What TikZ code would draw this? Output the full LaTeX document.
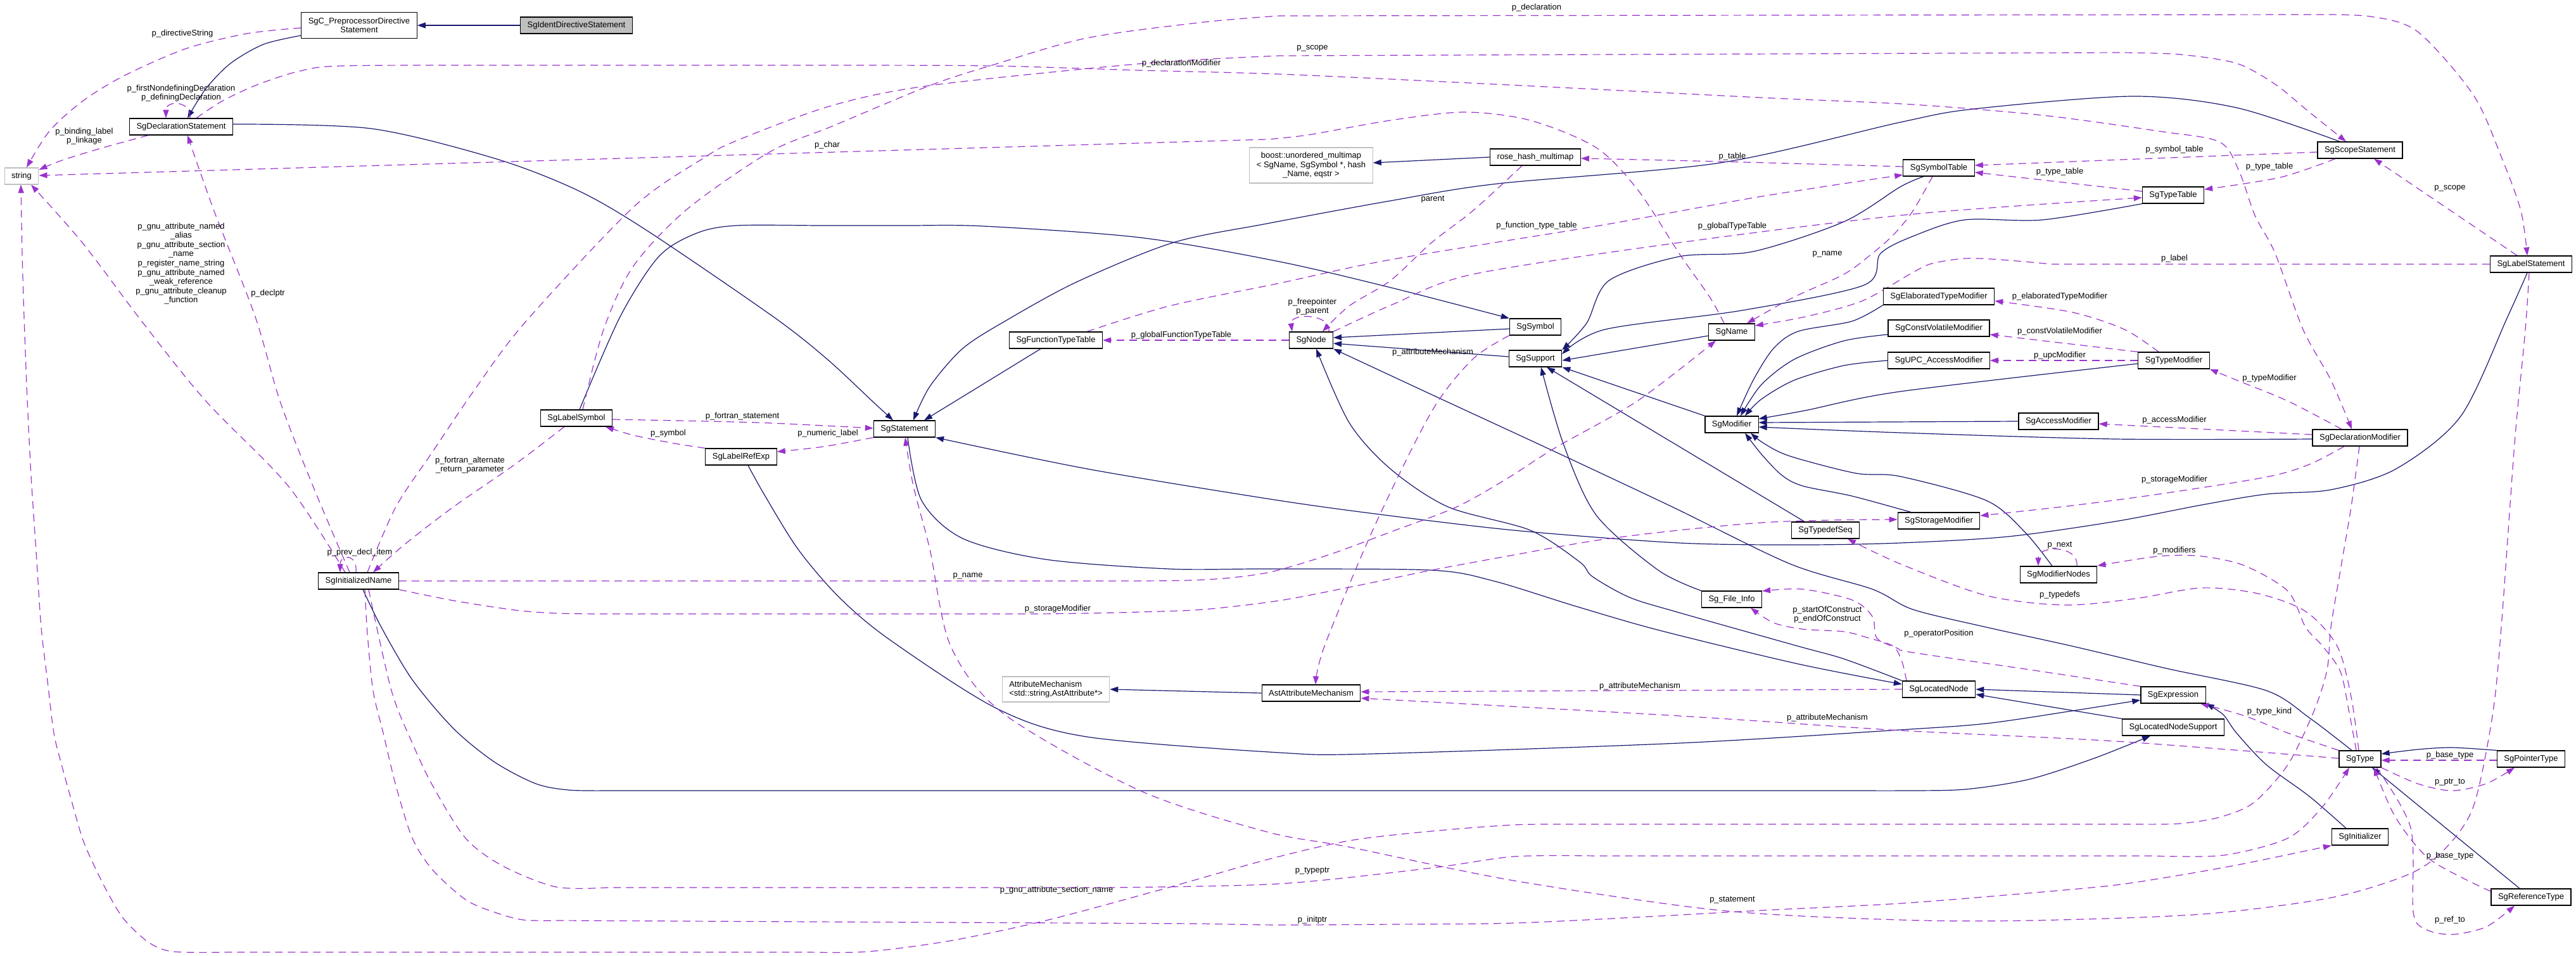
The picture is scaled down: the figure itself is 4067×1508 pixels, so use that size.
\documentclass[tikz,border=0pt]{standalone}
\usepackage{fontspec}
\setmainfont{Liberation Sans}
\usetikzlibrary{arrows.meta,backgrounds}
\definecolor{EdgeBlue}{HTML}{191970}
\definecolor{EdgePurple}{HTML}{9A32CD}
\definecolor{ExtGray}{HTML}{BFBFBF}

\begin{document}
\begin{tikzpicture}[x=1pt,y=-1pt,
  cls/.style={rectangle,draw=black,line width=1.2pt,fill=white,font=\fontsize{13}{14.6}\selectfont,inner xsep=11pt,inner ysep=2pt,minimum height=26pt,align=center},
  ext/.style={cls,draw=ExtGray},
  lbl/.style={font=\fontsize{13}{14.6}\selectfont,inner sep=0pt,align=center},
  inh/.style={draw=EdgeBlue,line width=1.2pt,-{Triangle[length=13pt,width=9pt]}},
  dep/.style={draw=EdgePurple,line width=1.2pt,dash pattern=on 12pt off 8pt,-{Triangle[length=13pt,width=9pt]}}]
\useasboundingbox (0,0) rectangle (4067,1508);
\node[cls,fill=ExtGray] (ident) at (910,40) {SgIdentDirectiveStatement};
\node[cls,minimum height=41pt] (preproc) at (567,40) {SgC\_PreprocessorDirective\\Statement};
\node[cls] (declstmt) at (286,200) {SgDeclarationStatement};
\node[ext] (str) at (34,278) {string};
\node[cls] (labelsym) at (910,660) {SgLabelSymbol};
\node[cls] (initname) at (566,917) {SgInitializedName};
\node[cls] (labelref) at (1170,721) {SgLabelRefExp};
\node[cls] (stmt) at (1428,677) {SgStatement};
\node[cls] (functypetab) at (1667,537) {SgFunctionTypeTable};
\node[ext,minimum height=40pt,align=left] (attrmech) at (1667,1088) {AttributeMechanism\\<std::string,AstAttribute*>};
\node[cls] (astattr) at (2070,1094) {AstAttributeMechanism};
\node[ext,minimum height=56pt] (boostmap) at (2070,261) {boost::unordered\_multimap\\< SgName, SgSymbol *, hash\\\_Name, eqstr >};
\node[cls] (rosemap) at (2424,248) {rose\_hash\_multimap};
\node[cls] (sgnode) at (2070,537) {SgNode};
\node[cls] (symbol) at (2424,516) {SgSymbol};
\node[cls] (support) at (2424,566) {SgSupport};
\node[cls] (name) at (2734,524) {SgName};
\node[cls] (modifier) at (2734,670) {SgModifier};
\node[cls] (typedefseq) at (2882,837) {SgTypedefSeq};
\node[cls] (fileinfo) at (2734,946) {Sg\_File\_Info};
\node[cls] (symtab) at (3061,265) {SgSymbolTable};
\node[cls] (typetab) at (3431,308) {SgTypeTable};
\node[cls] (scopestmt) at (3726,237) {SgScopeStatement};
\node[cls] (labelstmt) at (3996,417) {SgLabelStatement};
\node[cls] (elabmod) at (3061,468) {SgElaboratedTypeModifier};
\node[cls] (cvmod) at (3061,518) {SgConstVolatileModifier};
\node[cls] (upcmod) at (3061,569) {SgUPC\_AccessModifier};
\node[cls] (typemod) at (3432,569) {SgTypeModifier};
\node[cls] (accmod) at (3250,665) {SgAccessModifier};
\node[cls] (declmod) at (3726,691) {SgDeclarationModifier};
\node[cls] (stormod) at (3061,822) {SgStorageModifier};
\node[cls] (modnodes) at (3250,907) {SgModifierNodes};
\node[cls] (locnode) at (3061,1088) {SgLocatedNode};
\node[cls] (expr) at (3431,1097) {SgExpression};
\node[cls] (locsupport) at (3431,1148) {SgLocatedNodeSupport};
\node[cls] (type) at (3726,1198) {SgType};
\node[cls] (ptrtype) at (3996,1198) {SgPointerType};
\node[cls] (initializer) at (3726,1321) {SgInitializer};
\node[cls] (reftype) at (3996,1416) {SgReferenceType};
\begin{scope}[on background layer]
\draw[inh] (ident) -- (preproc);
\draw[inh] plot[smooth] coordinates {(preproc.west |- 0,56) (416,70) (364,100) (325,140) (declstmt.north -| 296,0)};
\draw[inh] plot[smooth] coordinates {(declstmt.east |- 0,196) (586,203) (781,250) (911,300) (1020,363) (1221,500) (1306,567) (1377,633) (stmt.north -| 1410,0)};
\draw[inh] plot[smooth] coordinates {(scopestmt.north -| 3694,0) (3531,170) (3367,152) (3116,172) (3000,193) (2716,257) (2364,290) (2195,317) (2000,353) (1852,383) (1700,445) (1590,505) (1520,550) (1468,610) (stmt.north -| 1442,0)};
\draw[inh] (functypetab.south -| 1643,0) -- (stmt.north -| 1459,0);
\draw[inh] plot[smooth] coordinates {(labelstmt.south -| 3990,0) (3959,500) (3885,657) (3783,740) (3680,773) (3578,780) (3476,797) (3340,823) (3170,847) (3000,857) (2846,860) (2651,857) (2390,837) (2163,810) (2000,787) (1716,740) (stmt.south east)};
\draw[inh] plot[smooth] coordinates {(stmt.south -| 1433,0) (1455,790) (1520,850) (1651,883) (1846,898) (2000,898) (2260,900) (2358,917) (2488,957) (2620,995) (2839,1048) (locnode.west |- 0,1080)};
\draw[inh] plot[smooth] coordinates {(labelsym.north -| 915,0) (979,500) (1040,405) (1100,368) (1163,356) (1300,356) (1430,356) (1553,357) (1800,375) (2020,413) (2200,455) (symbol.north west)};
\draw[inh] (symbol.west |- 0,519) -- (sgnode.east |- 0,533);
\draw[inh] (support.west |- 0,563) -- (sgnode.east |- 0,542);
\draw[inh] (name.west |- 0,530) -- (support.east |- 0,569);
\draw[inh] (modifier.north west) -- (support.south east);
\draw[inh] (typedefseq.north -| 2849,0) -- (support.south -| 2442,0);
\draw[inh] plot[smooth] coordinates {(fileinfo.north west) (2618,900) (2520,813) (2468,700) (support.south -| 2433,0)};
\draw[inh] plot[smooth] coordinates {(symtab.south -| 3037,0) (3000,295) (2911,350) (2768,397) (2651,405) (2540,443) (2505,510) (support.north east)};
\draw[inh] plot[smooth] coordinates {(typetab.south west) (3225,347) (3102,347) (3020,373) (2969,400) (2943,450) (2750,490) (2534,520) (support.east |- 0,559)};
\draw[inh] plot[smooth] coordinates {(locnode.north west) (2911,1040) (2839,1020) (2651,967) (2573,943) (2514,910) (2494,887) (2416,837) (2286,800) (2195,740) (2130,667) (sgnode.south -| 2078,0)};
\draw[inh] plot[smooth] coordinates {(type.north -| 3713,0) (3646,1133) (3578,1090) (3420,1055) (3272,1020) (3136,990) (3020,962) (2956,930) (2826,890) (2640,800) (2455,713) (2280,632) (sgnode.south east)};
\draw[inh] plot[smooth] coordinates {(elabmod.south west) (2924,507) (2839,523) (2800,550) (2768,600) (modifier.north -| 2742,0)};
\draw[inh] plot[smooth] coordinates {(cvmod.west |- 0,528) (2911,538) (2833,567) (2781,607) (modifier.north -| 2748,0)};
\draw[inh] plot[smooth] coordinates {(upcmod.west) (2911,577) (2833,600) (2781,630) (modifier.north -| 2755,0)};
\draw[inh] plot[smooth] coordinates {(typemod.west |- 0,574) (3000,618) (2850,648) (modifier.east |- 0,661)};
\draw[inh] (accmod.west) -- (modifier.east |- 0,667);
\draw[inh] plot[smooth] coordinates {(declmod.west |- 0,693) (3340,693) (3000,683) (modifier.east |- 0,674)};
\draw[inh] plot[smooth] coordinates {(stormod.north -| 3017,0) (2924,783) (2846,767) (2813,750) (2781,717) (modifier.south -| 2755,0)};
\draw[inh] plot[smooth] coordinates {(modnodes.north -| 3240,0) (3197,840) (3136,790) (3000,752) (2930,747) (2826,720) (2785,700) (modifier.south -| 2764,0)};
\draw[inh] (expr.west) -- (locnode.east |- 0,1088);
\draw[inh] (locsupport.north west) -- (locnode.east |- 0,1096);
\draw[inh] plot[smooth] coordinates {(initializer.north -| 3704,0) (3646,1257) (3578,1207) (3531,1157) (3510,1128) (expr.south east)};
\draw[inh] plot[smooth] coordinates {(labelref.south -| 1181,0) (1208,783) (1260,867) (1325,943) (1405,1010) (1573,1118) (1716,1163) (2020,1188) (2163,1190) (2651,1173) (3000,1152) (3136,1142) (3272,1122) (expr.west |- 0,1105)};
\draw[inh] plot[smooth] coordinates {(initname.south -| 573,0) (602,990) (651,1073) (716,1150) (781,1203) (846,1237) (898,1247) (960,1248)} -- plot[smooth] coordinates {(2950,1248) (3000,1248) (3102,1246) (3204,1230) (3306,1197) (locsupport.south -| 3395,0)};
\draw[inh] (astattr.west) -- (attrmech.east |- 0,1088);
\draw[inh] (rosemap.west) -- (boostmap.east |- 0,257);
\draw[inh] plot[smooth] coordinates {(ptrtype.north west) (3871,1180) (3817,1183) (type.east |- 0,1190)};
\draw[inh] (reftype.north -| 3978,0) -- (type.south -| 3745,0);
\draw[dep] plot[smooth] coordinates {(preproc.west |- 0,44) (390,53) (293,77) (195,120) (130,160) (78,207) (str.north -| 42,0)};
\draw[dep] (declstmt.north -| 300,0) .. controls (302,158) and (262,158) .. (declstmt.north -| 262,0);
\draw[dep] plot[smooth] coordinates {(declstmt.south -| 234,0) (163,233) (98,253) (str.east |- 0,268)};
\draw[dep] plot[smooth] coordinates {(name.north -| 2722,0) (2700,470) (2651,400) (2586,300) (2520,233) (2416,190) (2312,177) (2195,190) (2065,213) (2000,220)} -- (str.east |- 0,277);
\draw[dep] plot[smooth] coordinates {(initname.north -| 545,0) (455,767) (325,633) (226,510) (130,383) (str.south -| 49,0)};
\draw[dep] plot[smooth] coordinates {(initname.north -| 552,0) (494,767) (442,633) (403,500) (338,333) (declstmt.south -| 296,0)};
\draw[dep] (initname.north -| 562,0) .. controls (565,874) and (537,874) .. (initname.north -| 537,0);
\draw[dep] plot[smooth] coordinates {(labelsym.south -| 891,0) (813,733) (716,800) (638,860) (initname.north -| 589,0)};
\draw[dep] plot[smooth] coordinates {(initname.north -| 580,0) (625,800) (683,713) (748,617) (828,510) (1000,327) (1110,250) (1163,222) (1312,167) (1468,135) (1807,100) (2020,88)} -- plot[smooth] coordinates {(3350,83) (3442,86) (3531,100) (3592,133) (3646,177) (scopestmt.north -| 3704,0)};
\draw[dep] plot[smooth] coordinates {(labelsym.north -| 920,0) (953,520) (1000,420) (1085,330) (1215,240) (1312,200) (1468,135) (1566,103) (1716,60) (1900,35) (2020,25)} -- plot[smooth] coordinates {(3650,23) (3742,26) (3817,50) (3905,150) (3950,250) (3980,333) (labelstmt.north -| 3990,0)};
\draw[dep] plot[smooth] coordinates {(declstmt.north -| 310,0) (350,160) (403,135) (470,113) (540,104) (800,103) (1050,103) (1300,103) (1566,104) (1800,111) (2020,117) (2300,130) (2600,145) (2800,155) (3020,165) (3225,182) (3408,207) (3504,224) (3535,270) (3560,340) (3592,400) (3636,520) (3680,600) (declmod.north -| 3713,0)};
\draw[dep] plot[smooth] coordinates {(labelsym.east |- 0,662) (1195,667) (stmt.west |- 0,676)};
\draw[dep] plot[smooth] coordinates {(stmt.south west) (1300,705) (labelref.east |- 0,713)};
\draw[dep] plot[smooth] coordinates {(labelref.north west) (1065,700) (1000,687) (labelsym.south -| 956,0)};
\draw[dep] (sgnode.west) -- (functypetab.east);
\draw[dep] plot[smooth] coordinates {(functypetab.north -| 1716,0) (1846,483) (2020,447) (2195,410) (2520,357) (2781,310) (symtab.west |- 0,276)};
\draw[dep] plot[smooth] coordinates {(sgnode.north east) (2200,480) (2325,433) (2651,383) (3020,338) (typetab.west |- 0,312)};
\draw[dep] (sgnode.north -| 2098,0) .. controls (2102,494) and (2036,494) .. (sgnode.north -| 2040,0);
\draw[dep] plot[smooth] coordinates {(rosemap.south -| 2403,0) (2325,333) (2260,383) (2195,443) (2130,483) (sgnode.north -| 2088,0)};
\draw[dep] plot[smooth] coordinates {(symtab.west |- 0,263) (2716,255) (rosemap.east |- 0,250)};
\draw[dep] plot[smooth] coordinates {(symtab.south -| 3051,0) (3020,333) (2990,370) (2956,400) (2911,433) (2830,470) (name.north -| 2758,0)};
\draw[dep] (labelstmt.west) -- plot[smooth] coordinates {(3240,417) (3160,410) (3102,408) (3050,416) (3020,430) (2940,475) (2850,500) (name.east |- 0,514)};
\draw[dep] (labelstmt.north -| 3974,0) -- (scopestmt.south -| 3748,0);
\draw[dep] (scopestmt.west |- 0,240) -- (symtab.east |- 0,261);
\draw[dep] plot[smooth] coordinates {(scopestmt.south -| 3687,0) (3600,280) (typetab.east |- 0,299)};
\draw[dep] (typetab.west |- 0,302) -- (symtab.east |- 0,272);
\draw[dep] plot[smooth] coordinates {(typemod.north -| 3408,0) (3354,520) (3272,493) (elabmod.east |- 0,475)};
\draw[dep] (typemod.north west) -- (cvmod.east |- 0,528);
\draw[dep] (typemod.west) -- (upcmod.east);
\draw[dep] plot[smooth] coordinates {(declmod.north -| 3697,0) (3612,633) (3531,600) (typemod.south east)};
\draw[dep] (declmod.west |- 0,686) -- (accmod.east |- 0,669);
\draw[dep] plot[smooth] coordinates {(declmod.south -| 3701,0) (3646,733) (3578,753) (3408,780) (3272,798) (stormod.east |- 0,814)};
\draw[dep] (modnodes.north -| 3279,0) .. controls (3282,860) and (3218,860) .. (modnodes.north -| 3218,0);
\draw[dep] plot[smooth] coordinates {(type.north -| 3720,0) (3708,1120) (3695,1060) (3667,1020) (3640,990) (3612,933) (3544,893) (3476,878) (3408,878) (modnodes.east |- 0,893)};
\draw[dep] plot[smooth] coordinates {(type.north -| 3724,0) (3712,1100) (3690,1020) (3640,965) (3565,937) (3476,928) (3370,945) (3259,955) (3136,940) (3000,890) (typedefseq.south -| 2917,0)};
\draw[dep] plot[smooth] coordinates {(locnode.north -| 3010,0) (3003,1045) (2989,1020) (2950,1007) (2911,997) (2846,993) (2800,983) (fileinfo.south -| 2764,0)};
\draw[dep] plot[smooth] coordinates {(expr.north west) (3204,1057) (3020,1030) (2995,1023) (2963,1007) (2956,973) (2924,947) (2846,930) (fileinfo.east |- 0,933)};
\draw[dep] plot[smooth] coordinates {(symbol.south west) (2325,567) (2260,650) (2169,833) (2091,1020) (astattr.north -| 2077,0)};
\draw[dep] (locnode.west) -- (astattr.east |- 0,1092);
\draw[dep] plot[smooth] coordinates {(type.west |- 0,1197) (3340,1170) (3000,1153) (2651,1130) (astattr.east |- 0,1102)};
\draw[dep] plot[smooth] coordinates {(type.north west) (3612,1157) (3544,1130) (expr.south -| 3474,0)};
\draw[dep] (ptrtype.west |- 0,1200) -- (type.east |- 0,1200);
\draw[dep] plot[smooth] coordinates {(type.south east) (3817,1237) (3871,1248) (3925,1237) (ptrtype.south -| 3970,0)};
\draw[dep] plot[smooth] coordinates {(type.south -| 3752,0) (3806,1307) (3810,1440) (3830,1467) (3871,1475) (3925,1463) (reftype.south -| 3970,0)};
\draw[dep] plot[smooth] coordinates {(reftype.west |- 0,1407) (3837,1357) (3782,1290) (type.south -| 3748,0)};
\draw[dep] plot[smooth] coordinates {(initname.south -| 582,0) (618,1090) (651,1173) (683,1240) (735,1323) (794,1367) (878,1400) (960,1401)} -- plot[smooth] coordinates {(1750,1401) (2020,1395) (2260,1370) (2390,1352) (2520,1351)} -- plot[smooth] coordinates {(3400,1351) (3510,1350) (3612,1323) (3667,1273) (type.south -| 3709,0)};
\draw[dep] plot[smooth] coordinates {(initname.south -| 576,0) (580,1000) (589,1090) (605,1157) (625,1240) (651,1323) (683,1373) (735,1420) (781,1440) (826,1452) (880,1453)} -- plot[smooth] coordinates {(1900,1458) (2020,1460) (2200,1459) (2390,1457) (2600,1447) (2781,1437) (3000,1426) (3200,1410) (3340,1397) (3450,1380) (3544,1363) (initializer.south west)};
\draw[dep] plot[smooth] coordinates {(initname.south east) (716,948) (813,963) (878,968) (950,969)} -- plot[smooth] coordinates {(1640,969) (1716,968) (1800,966) (1900,962) (2020,948) (2140,925) (2260,900) (2390,876) (2520,853) (2650,837) (2781,825) (2890,821) (stormod.west |- 0,820)};
\draw[dep] (initname.east) -- plot[smooth] coordinates {(1800,917) (1878,916) (1943,912) (2010,902) (2100,875) (2200,838) (2300,800) (2380,755) (2455,707) (2585,633) (name.south -| 2709,0)};
\draw[dep] plot[smooth] coordinates {(declmod.south -| 3725,0) (3712,800) (3695,900) (3680,990) (3674,1057) (3653,1123) (3612,1207) (3558,1267) (3504,1290) (3442,1300) (3380,1301)} -- plot[smooth] coordinates {(2480,1301) (2390,1302) (2260,1312) (2130,1327) (2000,1357) (1830,1405) (1651,1453) (1500,1485) (1371,1502) (1280,1503)} -- plot[smooth] coordinates {(360,1503) (273,1502) (234,1487) (195,1450) (169,1407) (148,1365) (130,1323) (111,1257) (98,1210) (85,1157) (75,1075) (65,990) (57,870) (49,750) (43,630) (38,500) (35,400) (str.south -| 33,0)};
\draw[dep] plot[smooth] coordinates {(labelstmt.south -| 3993,0) (3987,520) (3970,700) (3949,990) (3935,1130) (3905,1273) (3860,1340) (3803,1380) (3680,1417) (3476,1443) (3204,1453) (3000,1452) (2716,1437) (2390,1390) (2130,1337) (2000,1313) (1800,1248) (1585,1127) (1501,1020) (1468,867) (1442,767) (stmt.south -| 1429,0)};
\end{scope}
\node[lbl] (l1) at (288,53) {p\_directiveString};
\node[lbl] (l2) at (286,147) {p\_firstNondefiningDeclaration\\p\_definingDeclaration};
\node[lbl] (l3) at (133,215) {p\_binding\_label\\p\_linkage};
\node[lbl] (l4) at (286,416) {p\_gnu\_attribute\_named\\\_alias\\p\_gnu\_attribute\_section\\\_name\\p\_register\_name\_string\\p\_gnu\_attribute\_named\\\_weak\_reference\\p\_gnu\_attribute\_cleanup\\\_function};
\node[lbl] (l5) at (423,463) {p\_declptr};
\node[lbl] (l6) at (568,872) {p\_prev\_decl\_item};
\node[lbl] (l7) at (742,734) {p\_fortran\_alternate\\\_return\_parameter};
\node[lbl] (l8) at (1172,657) {p\_fortran\_statement};
\node[lbl] (l9) at (1055,684) {p\_symbol};
\node[lbl] (l10) at (1307,684) {p\_numeric\_label};
\node[lbl] (l11) at (1306,229) {p\_char};
\node[lbl] (l12) at (1865,100) {p\_declarationModifier};
\node[lbl] (l13) at (1865,529) {p\_globalFunctionTypeTable};
\node[lbl] (l14) at (1528,909) {p\_name};
\node[lbl] (l15) at (1670,961) {p\_storageModifier};
\node[lbl] (l16) at (1668,1405) {p\_gnu\_attribute\_section\_name};
\node[lbl] (l17) at (2426,12) {p\_declaration};
\node[lbl] (l18) at (2072,76) {p\_scope};
\node[lbl] (l19) at (2262,315) {parent};
\node[lbl] (l20) at (2426,356) {p\_function\_type\_table};
\node[lbl] (l21) at (2735,247) {p\_table};
\node[lbl] (l22) at (2735,357) {p\_globalTypeTable};
\node[lbl] (l23) at (2885,401) {p\_name};
\node[lbl] (l24) at (2072,484) {p\_freepointer\\p\_parent};
\node[lbl] (l25) at (2262,556) {p\_attributeMechanism};
\node[lbl] (l26) at (2885,970) {p\_startOfConstruct\\p\_endOfConstruct};
\node[lbl] (l27) at (2589,1083) {p\_attributeMechanism};
\node[lbl] (l28) at (2885,1133) {p\_attributeMechanism};
\node[lbl] (l29) at (2072,1375) {p\_typeptr};
\node[lbl] (l30) at (2072,1452) {p\_initptr};
\node[lbl] (l31) at (2735,1421) {p\_statement};
\node[lbl] (l32) at (3433,236) {p\_symbol\_table};
\node[lbl] (l33) at (3252,271) {p\_type\_table};
\node[lbl] (l34) at (3583,263) {p\_type\_table};
\node[lbl] (l35) at (3868,297) {p\_scope};
\node[lbl] (l36) at (3433,408) {p\_label};
\node[lbl] (l37) at (3252,468) {p\_elaboratedTypeModifier};
\node[lbl] (l38) at (3252,523) {p\_constVolatileModifier};
\node[lbl] (l39) at (3252,561) {p\_upcModifier};
\node[lbl] (l40) at (3583,597) {p\_typeModifier};
\node[lbl] (l41) at (3433,663) {p\_accessModifier};
\node[lbl] (l42) at (3433,757) {p\_storageModifier};
\node[lbl] (l43) at (3252,861) {p\_next};
\node[lbl] (l44) at (3433,869) {p\_modifiers};
\node[lbl] (l45) at (3252,939) {p\_typedefs};
\node[lbl] (l46) at (3061,1000) {p\_operatorPosition};
\node[lbl] (l47) at (3583,1123) {p\_type\_kind};
\node[lbl] (l48) at (3868,1192) {p\_base\_type};
\node[lbl] (l49) at (3868,1235) {p\_ptr\_to};
\node[lbl] (l50) at (3868,1351) {p\_base\_type};
\node[lbl] (l51) at (3868,1452) {p\_ref\_to};
\end{tikzpicture}
\end{document}
